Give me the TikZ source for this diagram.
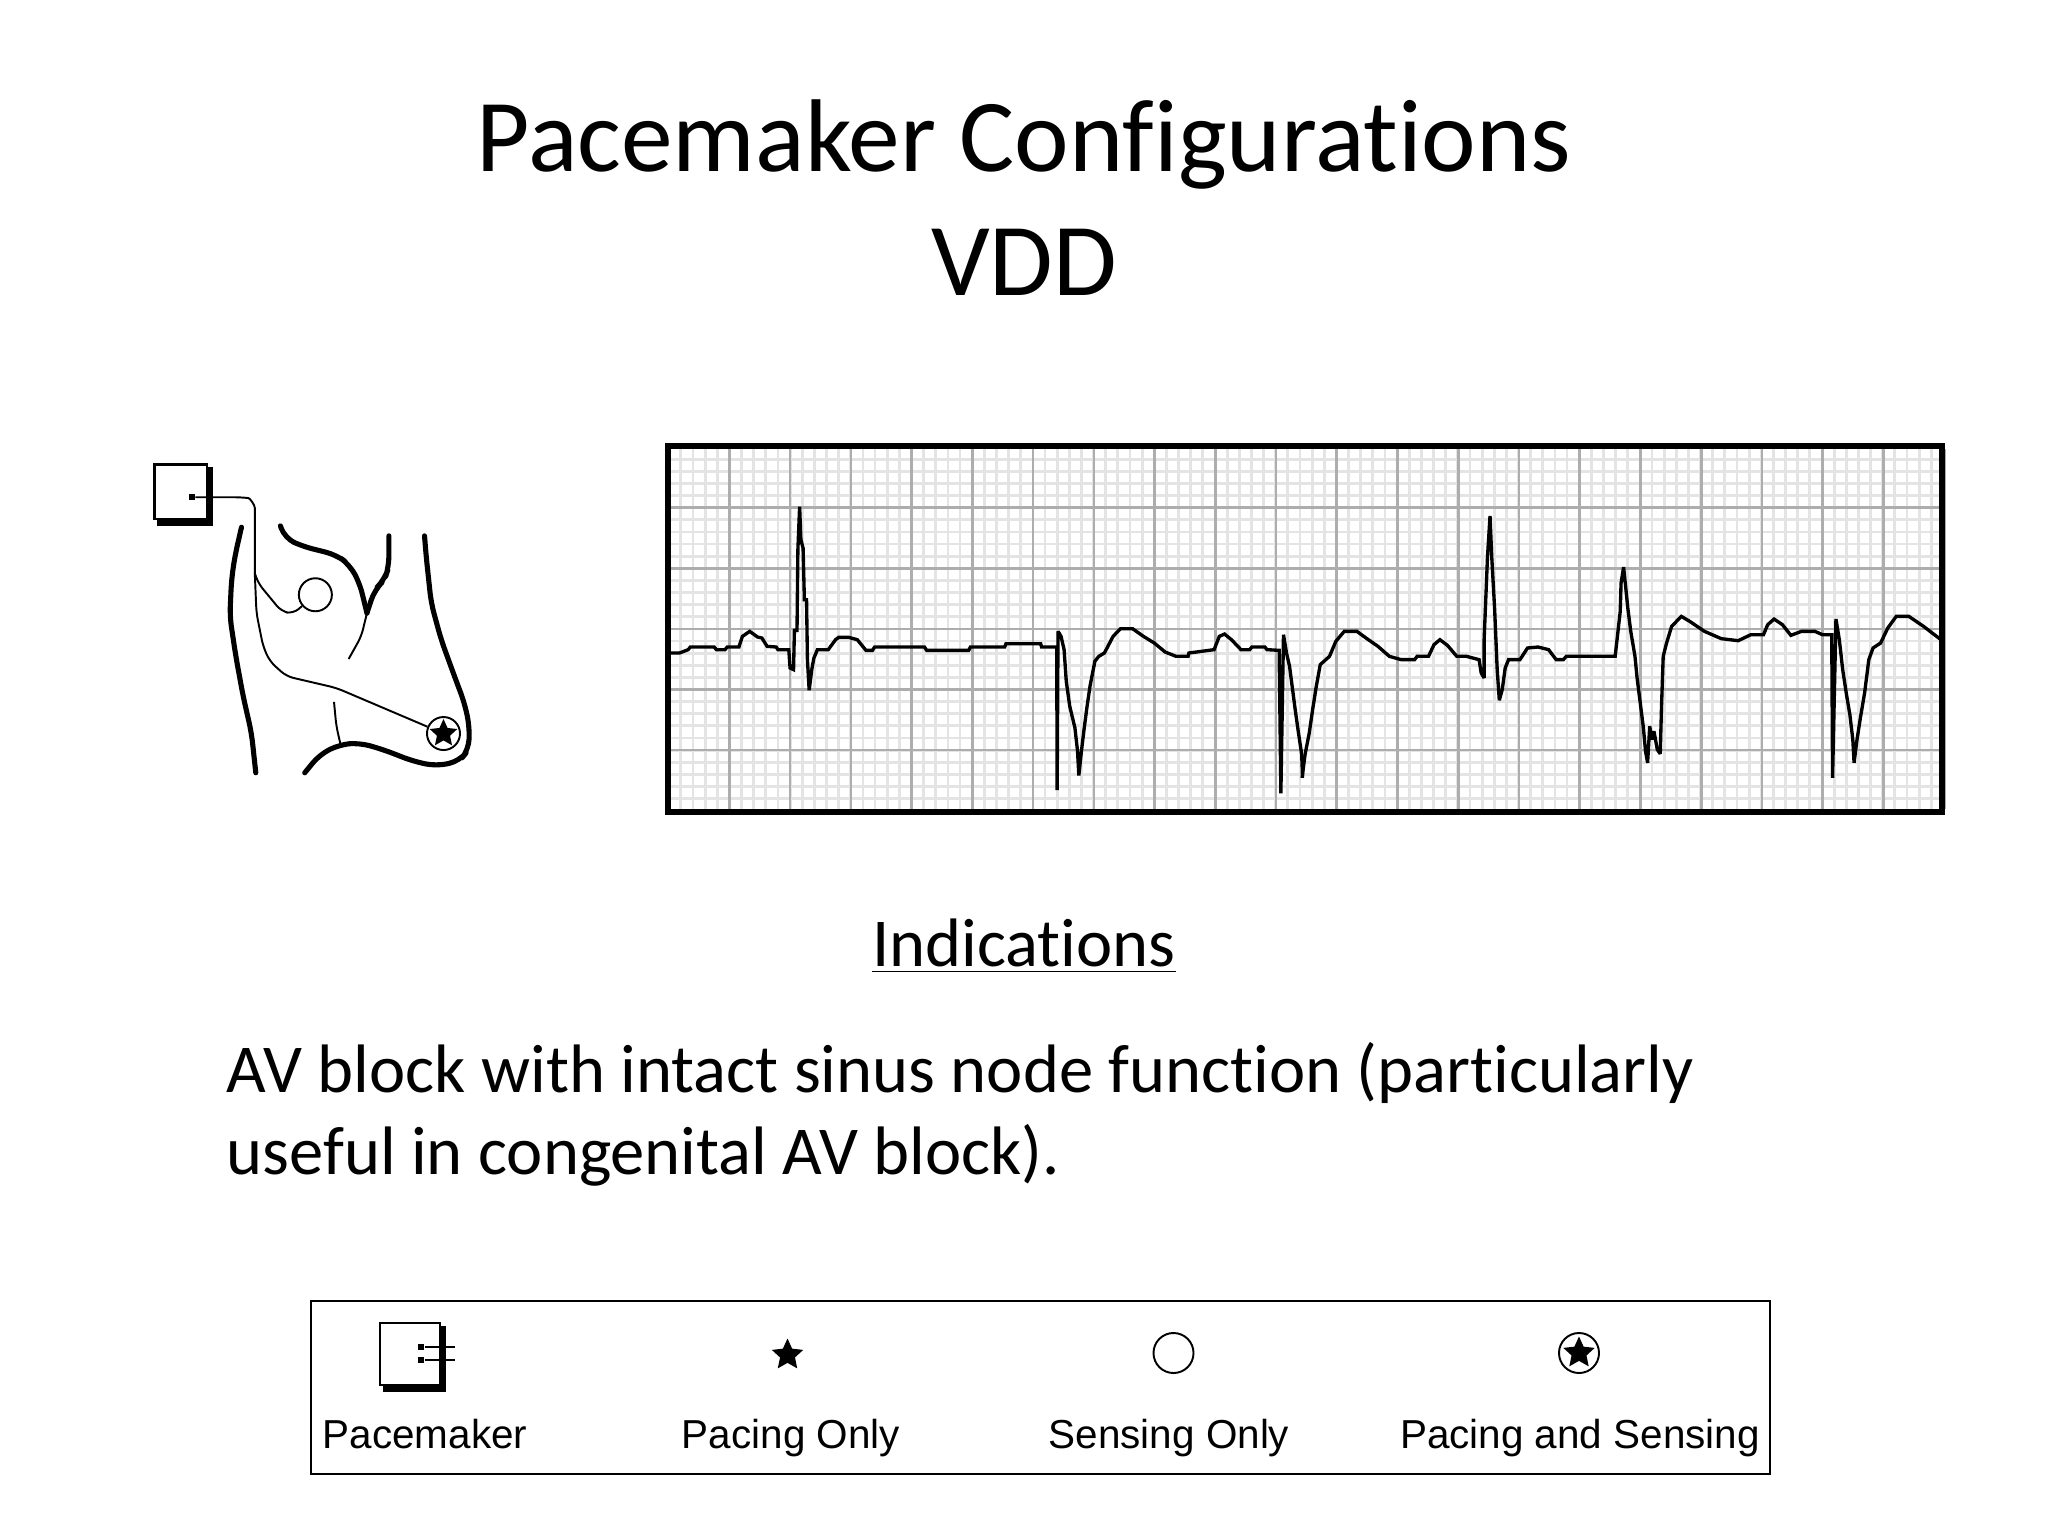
\documentclass[tikz,border=0pt]{standalone}
\usepackage{fontspec}
\setmainfont[Ligatures=NoCommon]{Carlito}
\newfontfamily\legendfont{Liberation Sans}
\usetikzlibrary{shapes.geometric}
\definecolor{minorgrid}{HTML}{E4E4E4}
\definecolor{majorgrid}{HTML}{ADADAD}
\begin{document}
\begin{tikzpicture}[x=0.01cm, y=-0.01cm]
\tikzset{titre/.style={anchor=base, font=\fontsize{29.4}{34}\selectfont},
  corps/.style={anchor=base west, font=\fontsize{19.5}{24}\selectfont},
  legende/.style={anchor=base, inner sep=0pt, font=\legendfont\fontsize{11.5}{14}\selectfont},
  trace/.style={line width=0.95pt, line join=miter, miter limit=2},
  corpus/.style={line width=1.45pt, line cap=round, line join=round, rounded corners=3pt},
  sonde/.style={line width=0.55pt, line join=round, rounded corners=2pt},
  capteur/.style={draw, circle, inner sep=0pt, line width=0.55pt},
  etoile/.style={star, star points=5, star point ratio=2.1, fill=black, inner sep=0pt}}
\useasboundingbox (0, 0) rectangle (2048, 1536);
\fill[white] (0, 0) rectangle (2048, 1536);
% titles
\node[titre] (titre1) at (1024, 171) {Pacemaker Configurations};
\node[titre] (titre2) at (1024, 295) {VDD};
\node[anchor=base, font=\fontsize{19.5}{24}\selectfont] (indic) at (1024, 966) {\underline{Indications}};
\node[corps, inner sep=0pt] (ligne1) at (226, 1092) {AV block with intact sinus node function (particularly};
\node[corps, inner sep=0pt] (ligne2) at (226, 1174) {useful in congenital AV block).};
% ecg paper
\foreach \i in {0,...,104} \draw[minorgrid, line width=0.8pt] ({668.7+12.14*\i}, 449) -- ({668.7+12.14*\i}, 809);
\foreach \j in {0,...,29} \draw[minorgrid, line width=0.8pt] (671, {447.1+12.12*\j}) -- (1939, {447.1+12.12*\j});
\foreach \i in {0,...,20} \draw[majorgrid, line width=0.75pt] ({729.4+60.74*\i}, 449) -- ({729.4+60.74*\i}, 809);
\foreach \j in {0,...,4} \draw[majorgrid, line width=0.75pt] (671, {507.7+60.6*\j}) -- (1939, {507.7+60.6*\j});
\draw[line width=1.7pt] (668, 446.3) rectangle (1942, 812);
% ecg trace, first half
\begin{scope}[shift={(660, 440)}, x=0.004337cm, y=-0.003333cm]
\draw[trace] (25,640) -- (45,640) -- (65,630) -- (70,622) -- (125,622) -- (130,630) -- (150,630) -- (155,622) -- (182,622) -- (190,590) -- (207,575) -- (225,592) -- (235,595) -- (247,620) -- (268,622) -- (272,630) -- (297,630) -- (300,685) -- (308,690) -- (310,572) -- (316,572) -- (318,330) -- (322,200) -- (325,300) -- (330,325) -- (333,480) -- (338,480) -- (340,660) -- (344,752) -- (350,690) -- (355,655) -- (363,630) -- (388,630) -- (405,600) -- (412,593) -- (435,593) -- (455,600) -- (475,632) -- (490,632) -- (495,622) -- (610,622) -- (615,632) -- (712,632) -- (716,622) -- (795,622) -- (798,612) -- (878,612) -- (880,622) -- (915,622) -- (916,1052) -- (918,575) -- (925,590) -- (932,630) -- (937,725) -- (945,800) -- (957,865) -- (963,935) -- (966,1008) -- (972,935) -- (978,870) -- (985,800) -- (992,738) -- (1003,665) -- (1012,650) -- (1025,640) -- (1045,590) -- (1062,567) -- (1090,567) -- (1115,590) -- (1140,610) -- (1165,637) -- (1190,650) -- (1218,650) -- (1220,640) -- (1278,630) -- (1290,590) -- (1302,583) -- (1318,600) -- (1340,630) -- (1360,630) -- (1365,622) -- (1395,622) -- (1400,630) -- (1428,632) -- (1432,1062) -- (1438,585) -- (1445,640) -- (1452,680) -- (1458,740) -- (1465,810) -- (1472,875) -- (1480,945) -- (1482,1015);
\end{scope}
% ecg trace, second half
\begin{scope}[shift={(1300, 440)}, x=0.004209cm, y=-0.003333cm]
\draw[trace] (5,1015) -- (12,945) -- (22,880) -- (30,810) -- (38,745) -- (48,675) -- (70,650) -- (85,605) -- (105,575) -- (135,575) -- (160,598) -- (185,620) -- (212,650) -- (240,660) -- (272,660) -- (278,650) -- (305,650) -- (318,615) -- (332,600) -- (350,617) -- (372,650) -- (395,650) -- (425,660) -- (430,700) -- (437,715) -- (437,600) -- (445,350) -- (451,228) -- (455,350) -- (462,510) -- (468,690) -- (473,782) -- (480,750) -- (487,685) -- (495,660) -- (522,660) -- (540,625) -- (565,622) -- (590,630) -- (608,660) -- (625,660) -- (632,650) -- (748,650) -- (752,605) -- (760,515) -- (762,430) -- (768,382) -- (772,430) -- (778,505) -- (785,575) -- (795,650) -- (800,715) -- (808,795) -- (815,865) -- (820,935) -- (825,970) -- (830,860) -- (835,900) -- (840,875) -- (848,930) -- (855,943) -- (858,800) -- (862,650) -- (870,610) -- (882,560) -- (905,530) -- (925,545) -- (960,575) -- (1000,597) -- (1040,603) -- (1070,585) -- (1100,585) -- (1110,555) -- (1125,538) -- (1145,555) -- (1165,587) -- (1190,575) -- (1222,575) -- (1240,585) -- (1262,585) -- (1264,1015) -- (1272,538) -- (1280,600) -- (1288,690) -- (1297,765) -- (1305,825) -- (1312,900) -- (1315,970) -- (1322,900) -- (1330,835) -- (1340,760) -- (1350,660) -- (1360,625) -- (1378,610) -- (1395,565) -- (1415,530) -- (1445,530) -- (1480,560) -- (1518,597);
\end{scope}
% body with the leads
\begin{scope}[shift={(130, 440)}, x=0.003333cm, y=-0.003333cm]
\fill (80,80) rectangle (250,258);
\draw[fill=white, line width=0.7pt] (73,73) rectangle (232,238);
\node[fill=black, minimum size=0.06cm, inner sep=0pt] (boitier) at (185,172) {};
\node[capteur, minimum size=0.33cm] (oreillette) at (557,465) {};
\node[capteur, minimum size=0.33cm] (ventricule) at (942,882) {};
\node[etoile, minimum size=0.29cm] (pointe) at (ventricule) {};
\coordinate (fourche) at (375,400);
\draw[sonde] (boitier) -- (335,172) .. controls (360,175) and (375,195) .. (375,225) -- (fourche);
\draw[sonde] (fourche) -- (385,430) -- (455,515) -- (490,522) -- (oreillette);
\draw[sonde] (fourche) -- (380,520) -- (400,620) -- (420,665) -- (470,710) -- (620,745) -- (ventricule);
\draw[corpus] (335,262) -- (315,350) -- (305,420) -- (300,530) -- (318,650) -- (340,770) -- (365,880) -- (378,1000);
\draw[corpus] (452,258) -- (465,295) -- (520,320) -- (620,345) -- (660,375) -- (690,430) -- (712,520);
\draw[corpus] (778,288) -- (778,380) -- (765,420) -- (735,450) -- (712,520);
\draw[sonde] (712,520) -- (695,590) -- (657,658);
\draw[corpus] (885,288) -- (890,350) -- (905,490) -- (935,600) -- (975,710) -- (1005,790) -- (1020,860) -- (1018,930) -- (990,965) -- (920,980) -- (850,965) -- (760,930) -- (690,910) -- (630,915) -- (570,945) -- (525,1000);
\draw[sonde] (613,787) -- (620,860) -- (632,912);
\end{scope}
% legend
\draw[line width=0.8pt] (311, 1301) rectangle (1770, 1474);
\fill (383, 1326) rectangle (445.5, 1392);
\draw[fill=white, line width=0.6pt] (380, 1323) rectangle (440, 1385);
\node[fill=black, minimum width=0.06cm, minimum height=0.06cm, inner sep=0pt] (plot1) at (421, 1347) {};
\node[fill=black, minimum width=0.06cm, minimum height=0.06cm, inner sep=0pt] (plot2) at (421, 1360) {};
\coordinate (fil1) at (455, 1347);
\coordinate (fil2) at (455, 1360);
\draw[sonde, line width=0.8pt] (plot1) -- (fil1);
\draw[sonde, line width=0.8pt] (plot2) -- (fil2);
\node[etoile, minimum size=0.33cm] (etoile1) at (787.5, 1355) {};
\node[capteur, minimum size=0.4cm] (rond1) at (1173.5, 1353) {};
\node[capteur, minimum size=0.4cm] (rond2) at (1579, 1353) {};
\node[etoile, minimum size=0.33cm] (etoile2) at (rond2) {};
\node[legende] (nom1) at (425, 1448) {Pacemaker};
\node[legende] (nom2) at (791, 1448) {Pacing Only};
\node[legende] (nom3) at (1169, 1448) {Sensing Only};
\node[legende] (nom4) at (1580, 1448) {Pacing and Sensing};
\end{tikzpicture}
\end{document}
